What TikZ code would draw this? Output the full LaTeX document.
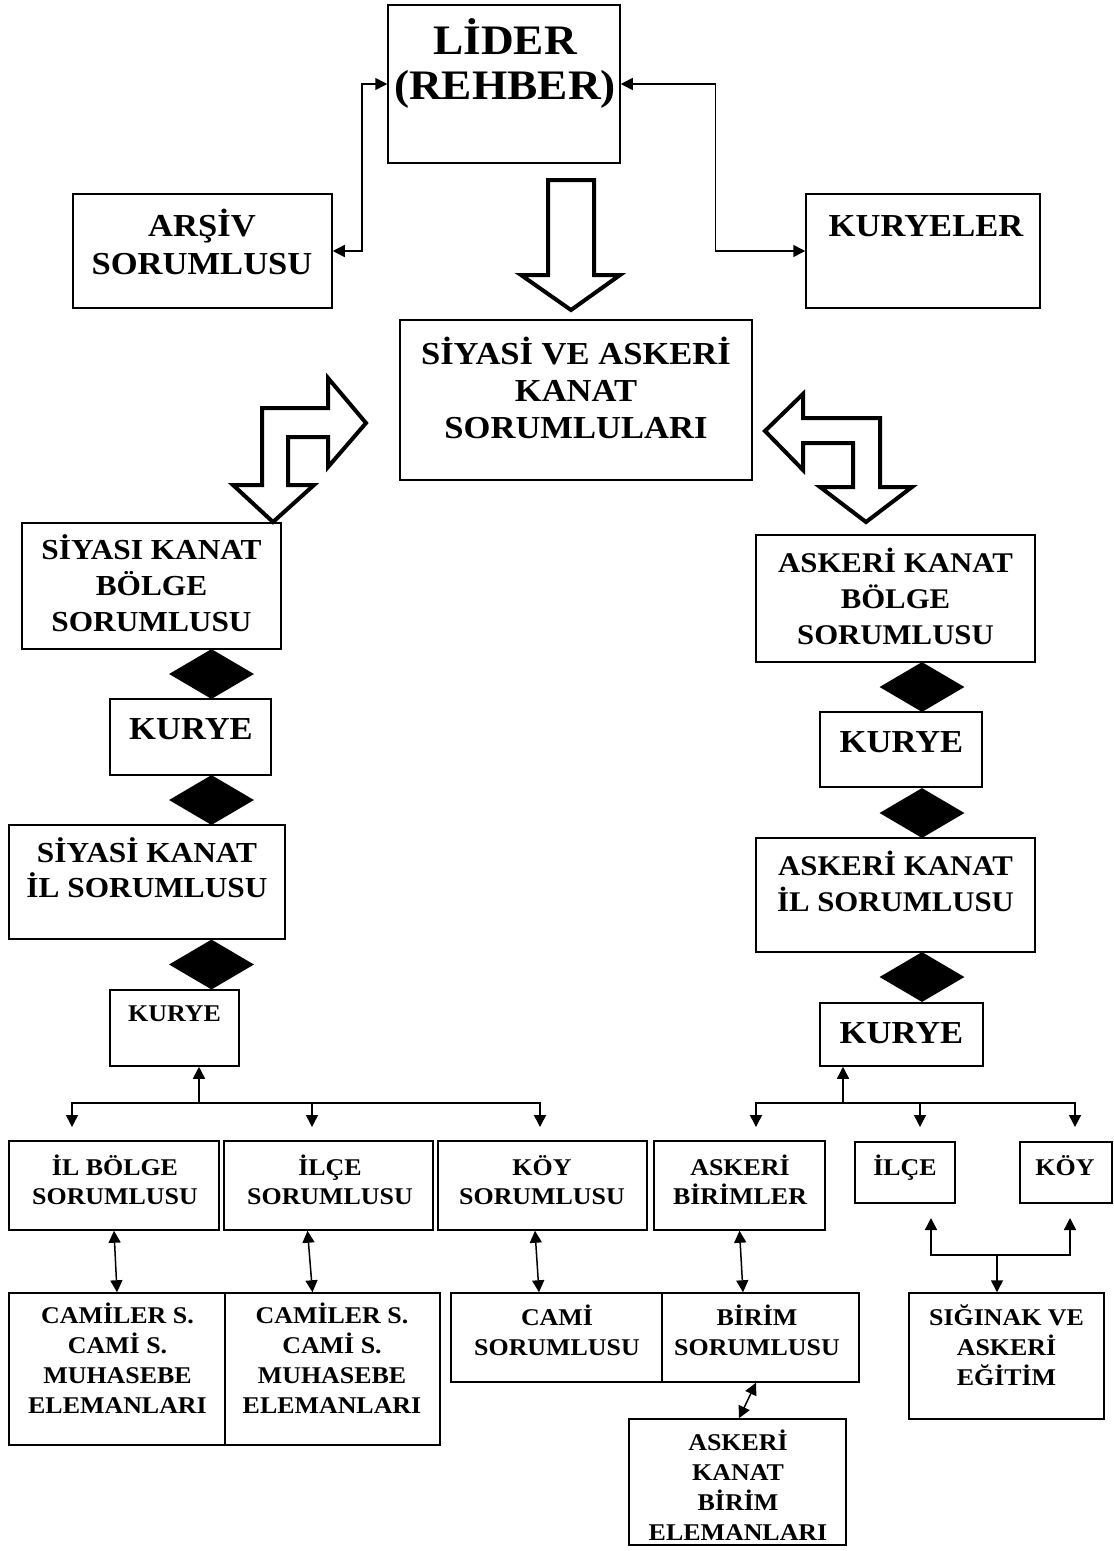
\documentclass[tikz,border=0pt]{standalone}
\usepackage{fontspec}
\setmainfont{Liberation Serif}[FakeStretch=1.08]
\usetikzlibrary{arrows.meta,shapes.geometric}
\newcommand\fz[2]{\fontsize{#1}{#2}\selectfont\bfseries}
\newcommand\topstrut{\rule{0pt}{1em}}
\newcommand\mybox[5]{\node[box, minimum width={#3-#2}, minimum height={#5-#4}] (#1) at ({(#2+#3)/2},{(#4+#5)/2}) {};}
\newcommand\mytext[6]{\node[txt, font=\fz{#4}{#5}] (#1) at ({#2},{#3-0.345*#4}) {\topstrut#6};}
\tikzset{
  box/.style={draw, line width=1.5pt, rectangle, inner sep=0pt},
  txt/.style={anchor=north, align=center, inner sep=0pt},
  dia/.style={diamond, fill=black, draw=none, inner sep=0pt, minimum width=85pt, minimum height=50pt},
  blk/.style={draw, line width=4pt, fill=white, line join=miter},
  arr/.style={line width=1.5pt, -{Triangle[length=12pt,width=12pt]}},
  dbl/.style={line width=1.5pt, {Triangle[length=12pt,width=12pt]}-{Triangle[length=12pt,width=12pt]}},
}
\begin{document}
\begin{tikzpicture}[x=1pt,y=-1pt]
\useasboundingbox (0,0) rectangle (1114,1551);
% boxes
\mybox{lider}{388}{620}{5}{163}
\mybox{arsiv}{73}{332}{194}{308}
\mybox{kuryeler}{806}{1040}{194}{308}
\mybox{sak}{400}{752}{320}{480}
\mybox{skb}{22}{281}{523}{649}
\mybox{kL1}{110}{271}{699}{775}
\mybox{ski}{9}{285}{825}{939}
\mybox{kL2}{110}{239}{990}{1066}
\mybox{akb}{756}{1035}{535}{662}
\mybox{kR1}{820}{982}{712}{787}
\mybox{aki}{756}{1035}{838}{952}
\mybox{kR2}{820}{983}{1003}{1066}
\mybox{ilb}{9}{219}{1141}{1230}
\mybox{ilce}{224}{433}{1141}{1230}
\mybox{koy}{438}{647}{1141}{1230}
\mybox{abir}{654}{825}{1141}{1230}
\mybox{ilceB}{855}{955}{1142}{1203}
\mybox{koyB}{1020}{1112}{1142}{1203}
\mybox{cam1}{9}{225}{1293}{1445}
\mybox{cam2}{225}{440}{1293}{1445}
\mybox{cami}{451}{662}{1293}{1382}
\mybox{birim}{662}{859}{1293}{1382}
\mybox{sig}{909}{1104}{1293}{1419}
\mybox{akbe}{629}{846}{1419}{1545}
% texts
\mytext{tl}{505}{27}{42}{45}{LİDER\\(REHBER)}
\mytext{ta}{202}{215}{32}{38}{ARŞİV\\SORUMLUSU}
\mytext{tk}{926}{215}{32}{38}{KURYELER}
\mytext{tsak}{576}{343}{32}{37}{SİYASİ VE ASKERİ\\KANAT\\SORUMLULARI}
\mytext{tskb}{151.5}{540}{29}{36}{SİYASI KANAT\\BÖLGE\\SORUMLUSU}
\mytext{tkL1}{191}{718}{32}{38}{KURYE}
\mytext{tski}{147}{843}{29}{35}{SİYASİ KANAT\\İL SORUMLUSU}
\mytext{tkL2}{174.5}{1006}{24}{28}{KURYE}
\mytext{takb}{895.5}{554}{28.5}{36}{ASKERİ KANAT\\BÖLGE\\SORUMLUSU}
\mytext{tkR1}{901.5}{731}{32}{38}{KURYE}
\mytext{taki}{895.5}{857}{28.5}{36}{ASKERİ KANAT\\İL SORUMLUSU}
\mytext{tkR2}{901.5}{1022}{32}{38}{KURYE}
\mytext{tilb}{115}{1160}{24}{29}{İL BÖLGE\\SORUMLUSU}
\mytext{tilce}{330}{1160}{24}{29}{İLÇE\\SORUMLUSU}
\mytext{tkoy}{542}{1160}{24}{29}{KÖY\\SORUMLUSU}
\mytext{tabir}{740}{1160}{24}{29}{ASKERİ\\BİRİMLER}
\mytext{tilceB}{905}{1160}{24}{29}{İLÇE}
\mytext{tkoyB}{1065}{1160}{24}{29}{KÖY}
\mytext{tcam1}{117.5}{1308}{24}{30}{CAMİLER S.\\CAMİ S.\\MUHASEBE\\ELEMANLARI}
\mytext{tcam2}{332}{1308}{24}{30}{CAMİLER S.\\CAMİ S.\\MUHASEBE\\ELEMANLARI}
\mytext{tcami}{557}{1310}{24}{30}{CAMİ\\SORUMLUSU}
\mytext{tbirim}{757}{1310}{24}{30}{BİRİM\\SORUMLUSU}
\mytext{tsig}{1006.5}{1310}{24}{30}{SIĞINAK VE\\ASKERİ\\EĞİTİM}
\mytext{takbe}{738}{1435}{24}{30}{ASKERİ\\KANAT\\BİRİM\\ELEMANLARI}
% diamonds
\node[dia] (dL1) at (211.5,674) {};
\node[dia] (dL2) at (211.5,800) {};
\node[dia] (dL3) at (211.5,964.5) {};
\node[dia] (dR1) at (922,687) {};
\node[dia] (dR2) at (922,813) {};
\node[dia] (dR3) at (922,977) {};
% block arrows
\draw[blk] (548,180) -- (594,180) -- (594,275) -- (620,275) -- (571,310) -- (521,275) -- (548,275) -- cycle;
\draw[blk] (233,485) -- (273,522) -- (314,485) -- (288,485) -- (288,437) -- (328,437) -- (328,467) -- (366,423) -- (328,378) -- (328,408) -- (262,408) -- (262,485) -- cycle;
\draw[blk] (765,431) -- (803,394) -- (803,418) -- (880,418) -- (880,487) -- (912,487) -- (866,522) -- (820,487) -- (853,487) -- (853,443) -- (803,443) -- (803,470) -- cycle;
% top connectors
\draw[dbl] (lider.west) -| ([xshift=29pt]arsiv.east) -- (arsiv.east);
\draw[dbl] (lider.east) -| ([xshift=-90pt]kuryeler.west) -- (kuryeler.west);
% left tree
\coordinate (jl) at (199,1103);
\coordinate (tl1) at (72,1127);
\coordinate (tl2) at (312,1127);
\coordinate (tl3) at (540,1127);
\draw[arr] (jl) -- (jl |- kL2.south);
\draw[arr] (jl) -| (tl1);
\draw[arr] (jl) -| (tl2);
\draw[arr] (jl) -| (tl3);
% right tree
\coordinate (jr) at (843,1103);
\coordinate (tr1) at (756,1127);
\coordinate (tr2) at (920,1127);
\coordinate (tr3) at (1075,1127);
\draw[arr] (jr) -- (jr |- kR2.south);
\draw[arr] (jr) -| (tr1);
\draw[arr] (jr) -| (tr2);
\draw[arr] (jr) -| (tr3);
% ilce/koy to siginak
\coordinate (jb) at (997,1255);
\coordinate (tb1) at (931,1218);
\coordinate (tb2) at (1070,1218);
\draw[arr] (jb) -- (jb |- sig.north);
\draw[arr] (jb) -| (tb1);
\draw[arr] (jb) -| (tb2);
% double arrows
\draw[dbl] ([xshift=0pt]ilb.south) -- ([xshift=0pt]cam1.north);
\draw[dbl] ([xshift=-21pt]ilce.south) -- ([xshift=-20pt]cam2.north);
\draw[dbl] ([xshift=-7.5pt]koy.south) -- ([xshift=-17.5pt]cami.north);
\draw[dbl] ([xshift=0pt]abir.south) -- ([xshift=-17.5pt]birim.north);
\draw[dbl] ([xshift=-4.5pt]birim.south) -- ([xshift=1.5pt]akbe.north);
\end{tikzpicture}
\end{document}
